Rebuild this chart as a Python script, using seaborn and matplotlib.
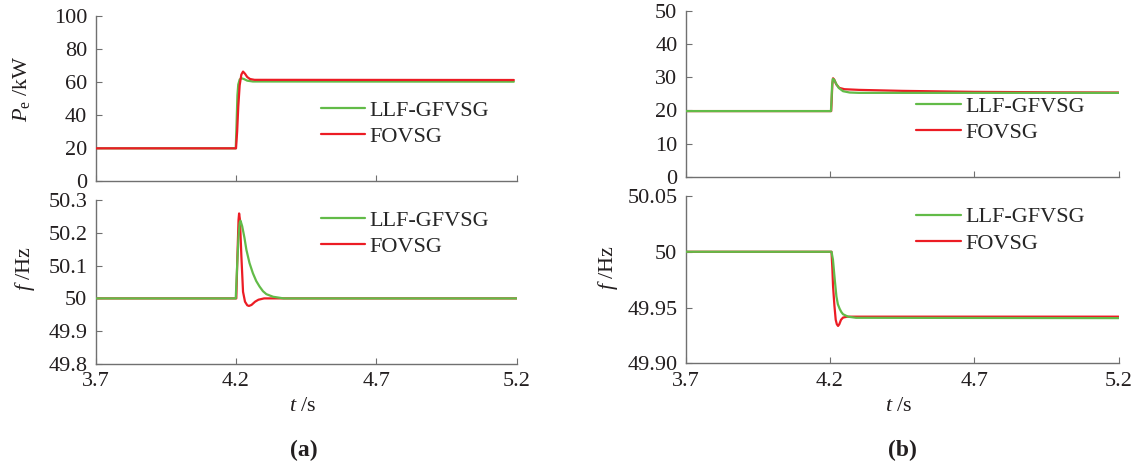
import matplotlib
matplotlib.use("Agg")
import matplotlib.pyplot as plt
import seaborn as sns

# ---- data ----
series_names = ["LLF-GFVSG", "FOVSG"]
x_ticks = [3.7, 4.2, 4.7, 5.2]
x_ticklabels = ["3.7", "4.2", "4.7", "5.2"]

# (a) active power
pa_t_llf = [3.7, 4.199, 4.202, 4.205, 4.208, 4.213, 4.219, 4.228, 4.24, 4.26, 5.19]
pa_v_llf = [19.8, 19.8, 35, 52, 58.5, 61.5, 62.3, 61.8, 60.8, 60.3, 60.2]
pa_t_fo = [3.7, 4.2, 4.204, 4.208, 4.213, 4.219, 4.225, 4.232, 4.24, 4.25, 4.266, 5.19]
pa_v_fo = [19.8, 19.8, 30, 45, 58, 64.5, 66.3, 65, 63, 61.8, 61.3, 61.2]
pa_yticks = [0, 20, 40, 60, 80, 100]
pa_yticklabels = ["0", "20", "40", "60", "80", "100"]

# (a) frequency
fa_t_llf = [3.7, 4.199, 4.204, 4.209, 4.213, 4.216, 4.222, 4.23, 4.237, 4.248,
            4.26, 4.272, 4.284, 4.296, 4.308, 4.332, 4.37, 5.2]
fa_v_llf = [50, 50, 50.1, 50.19, 50.23, 50.237, 50.22, 50.185, 50.148, 50.108,
            50.077, 50.053, 50.036, 50.022, 50.013, 50.005, 50.0, 50]
fa_t_fo = [3.7, 4.201, 4.205, 4.209, 4.211, 4.214, 4.219, 4.225, 4.232, 4.24,
           4.246, 4.255, 4.268, 4.28, 4.30, 5.2]
fa_v_fo = [50, 50, 50.13, 50.24, 50.259, 50.24, 50.13, 50.02, 49.99, 49.979,
           49.977, 49.98, 49.99, 49.996, 50, 50]
fa_yticks = [49.8, 49.9, 50.0, 50.1, 50.2, 50.3]
fa_yticklabels = ["49.8", "49.9", "50", "50.1", "50.2", "50.3"]

# (b) active power
pb_t_llf = [3.7, 4.203, 4.205, 4.207, 4.2095, 4.214, 4.22, 4.23, 4.245, 4.268, 4.3, 5.2]
pb_v_llf = [19.8, 19.8, 23, 27.5, 29.5, 29.3, 28.2, 26.8, 25.8, 25.4, 25.3, 25.3]
pb_t_fo = [3.7, 4.204, 4.206, 4.208, 4.2104, 4.215, 4.222, 4.232, 4.25, 4.3, 4.45, 4.7, 5.0, 5.2]
pb_v_fo = [19.8, 19.8, 24, 28, 29.7, 29.2, 27.8, 26.8, 26.4, 26.2, 25.9, 25.6, 25.45, 25.4]
pb_yticks = [0, 10, 20, 30, 40, 50]
pb_yticklabels = ["0", "10", "20", "30", "40", "50"]

# (b) frequency
fb_t_llf = [3.7, 4.205, 4.210, 4.2163, 4.222, 4.227, 4.233, 4.239, 4.245, 4.262, 4.29, 5.2]
fb_v_llf = [50, 50, 49.993, 49.975, 49.960, 49.953, 49.949, 49.946, 49.944, 49.9418, 49.9408, 49.9405]
fb_t_fo = [3.7, 4.205, 4.208, 4.2104, 4.215, 4.2196, 4.2235, 4.2277, 4.232, 4.238, 4.245, 4.26, 5.2]
fb_v_fo = [50, 50, 49.985, 49.969, 49.952, 49.939, 49.935, 49.9335, 49.935, 49.939, 49.941, 49.9418, 49.9418]
fb_yticks = [49.90, 49.95, 50.0, 50.05]
fb_yticklabels = ["49.90", "49.95", "50", "50.05"]

green = "#62bb48"
red = "#ec1c24"
spine_c = "#707070"
txt = "#231f20"
fs = 16

sns.set_style("ticks")
plt.rcParams["font.family"] = ["Liberation Serif", "DejaVu Serif"]
plt.rcParams["mathtext.fontset"] = "custom"
plt.rcParams["mathtext.rm"] = "Liberation Serif"
plt.rcParams["mathtext.it"] = "Liberation Serif:italic"
plt.rcParams["font.size"] = fs

fig = plt.figure(figsize=(11.38, 4.66), dpi=100)
ax_pa = fig.add_axes([0.0841, 0.6116, 0.3699, 0.3541])
ax_fa = fig.add_axes([0.0841, 0.2189, 0.3699, 0.3519])
ax_pb = fig.add_axes([0.6026, 0.6208, 0.3804, 0.3556])
ax_fb = fig.add_axes([0.6026, 0.2204, 0.3804, 0.3590])


def draw(ax, t1, v1, t2, v2, green_on_top):
    z1, z2 = (3, 2) if green_on_top else (2, 3)
    sns.lineplot(x=t1, y=v1, ax=ax, color=green, lw=1.6, label=series_names[0], zorder=z1)
    sns.lineplot(x=t2, y=v2, ax=ax, color=red, lw=1.6, label=series_names[1], zorder=z2)


def style(ax, ylim, yticks, ylabels, show_x, leg_xy):
    ax.set_xlim(3.7, 5.2)
    ax.set_ylim(*ylim)
    ax.set_xticks(x_ticks)
    ax.set_xticklabels(x_ticklabels)
    ax.set_yticks(yticks)
    ax.set_yticklabels(ylabels)
    ax.set_xlabel("")
    ax.set_ylabel("")
    for s in ["top", "right"]:
        ax.spines[s].set_visible(False)
    for s in ["left", "bottom"]:
        ax.spines[s].set_color(spine_c)
        ax.spines[s].set_linewidth(1.0)
    ax.tick_params(direction="in", length=4, width=0.8, color=spine_c,
                   labelsize=fs, labelcolor=txt, pad=6)
    if not show_x:
        ax.tick_params(axis="x", labelbottom=False)
    ax.legend(loc="center left", bbox_to_anchor=leg_xy, bbox_transform=fig.transFigure,
              frameon=False, fontsize=fs, borderpad=0, borderaxespad=0,
              handlelength=2.0, handletextpad=0.2, labelspacing=0.25)


draw(ax_pa, pa_t_llf, pa_v_llf, pa_t_fo, pa_v_fo, False)
draw(ax_fa, fa_t_llf, fa_v_llf, fa_t_fo, fa_v_fo, True)
draw(ax_pb, pb_t_llf, pb_v_llf, pb_t_fo, pb_v_fo, True)
draw(ax_fb, fb_t_llf, fb_v_llf, fb_t_fo, fb_v_fo, True)

style(ax_pa, (0, 100), pa_yticks, pa_yticklabels, False, (0.282, 0.735))
style(ax_fa, (49.8, 50.3), fa_yticks, fa_yticklabels, True, (0.282, 0.498))
style(ax_pb, (0, 50), pb_yticks, pb_yticklabels, False, (0.805, 0.744))
style(ax_fb, (49.90, 50.05), fb_yticks, fb_yticklabels, True, (0.805, 0.506))

fig.text(0.0185, 0.811, r"$P_{\mathrm{e}}$ /kW", rotation=90, ha="center", va="center", fontsize=fs, color=txt)
fig.text(0.022, 0.425, r"$f$ /Hz", rotation=90, ha="center", va="center", fontsize=fs, color=txt)
fig.text(0.534, 0.427, r"$f$ /Hz", rotation=90, ha="center", va="center", fontsize=fs, color=txt)
fig.text(0.266, 0.127, r"$t$ /s", ha="center", va="center", fontsize=fs, color=txt)
fig.text(0.790, 0.127, r"$t$ /s", ha="center", va="center", fontsize=fs, color=txt)
fig.text(0.267, 0.034, "(a)", ha="center", va="center", fontsize=17, fontweight="bold", color=txt)
fig.text(0.793, 0.034, "(b)", ha="center", va="center", fontsize=17, fontweight="bold", color=txt)

fig.savefig("out.png", dpi=100)
